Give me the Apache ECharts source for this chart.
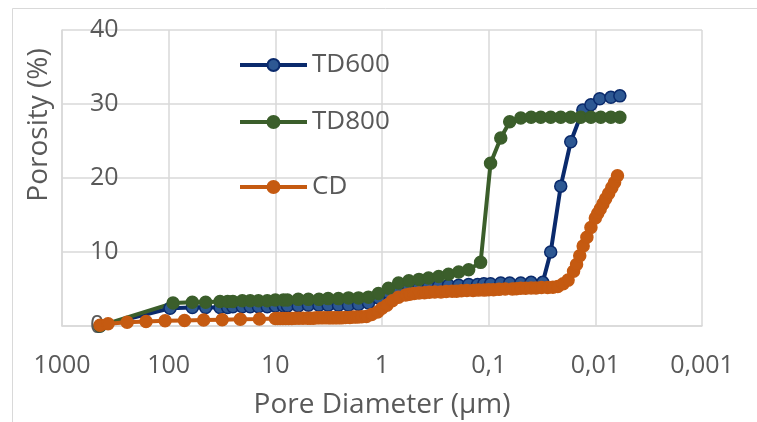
<!DOCTYPE html>
<html>
<head>
<meta charset="utf-8">
<script src="https://cdn.jsdelivr.net/npm/echarts@6/dist/echarts.min.js"></script>
<style>
html,body{margin:0;padding:0;background:#fff;}
#chart{width:757px;height:422px;}
</style>
</head>
<body>
<div id="chart"></div>
<script>
// ---- data ----
const seriesNames = ['TD600', 'TD800', 'CD'];

const td600Diam = [440, 97, 60, 45, 33, 28, 25, 20.4, 17.2, 14.4, 11.9, 10, 8.4, 7.7, 6.1, 4.9, 3.9, 3.2, 2.56, 2.06, 1.66, 1.34, 1.08, 0.87, 0.70, 0.56, 0.45, 0.366, 0.294, 0.238, 0.191, 0.154, 0.127, 0.111, 0.096, 0.077, 0.0635, 0.050, 0.040, 0.0311, 0.0262, 0.0211, 0.0170, 0.0131, 0.0110, 0.0091, 0.00715, 0.00589];
const td600Por = [0, 2.4, 2.5, 2.5, 2.5, 2.5, 2.6, 2.6, 2.6, 2.6, 2.6, 2.7, 2.7, 2.7, 2.7, 2.8, 2.8, 2.8, 2.8, 2.8, 2.9, 3.1, 3.8, 4.5, 4.9, 5.1, 5.2, 5.3, 5.4, 5.5, 5.5, 5.6, 5.6, 5.7, 5.7, 5.8, 5.8, 5.8, 5.9, 5.9, 10.0, 18.9, 24.9, 29.2, 29.9, 30.7, 30.9, 31.1];

const td800Diam = [440, 91, 60, 45, 33, 28, 25, 20.4, 17.2, 14.4, 11.9, 10, 8.4, 7.7, 6.1, 4.9, 3.9, 3.2, 2.56, 2.06, 1.66, 1.34, 1.08, 0.87, 0.70, 0.56, 0.45, 0.366, 0.294, 0.238, 0.191, 0.154, 0.119, 0.096, 0.077, 0.0635, 0.050, 0.040, 0.0325, 0.0262, 0.0211, 0.0170, 0.0137, 0.0110, 0.0089, 0.00715, 0.00589];
const td800Por = [0, 3.1, 3.2, 3.2, 3.3, 3.3, 3.3, 3.4, 3.4, 3.4, 3.4, 3.5, 3.5, 3.5, 3.6, 3.6, 3.6, 3.7, 3.7, 3.8, 3.8, 3.9, 4.4, 5.1, 5.8, 6.1, 6.3, 6.5, 6.7, 7.0, 7.3, 7.6, 8.6, 22.0, 25.4, 27.6, 28.1, 28.2, 28.2, 28.2, 28.2, 28.2, 28.2, 28.2, 28.2, 28.2, 28.2];

const cdDiam = [440, 370, 245, 163, 108, 71, 47, 31.5, 21.3, 14.1,
  10, 9.5, 9, 8.5, 8, 7.5, 7, 6.5, 6, 5.5,
  5, 4.7, 4.4, 4.1, 3.8, 3.5, 3.2, 3.0, 2.8, 2.6,
  2.4, 2.2, 2.0, 1.85, 1.7, 1.55, 1.4, 1.25, 1.1, 1.0,
  0.9, 0.8, 0.7, 0.6, 0.55, 0.5, 0.45, 0.4, 0.36, 0.32,
  0.28, 0.25, 0.22, 0.2, 0.18, 0.16, 0.14, 0.125, 0.11, 0.1,
  0.09, 0.08, 0.07, 0.06, 0.055, 0.05, 0.045, 0.04, 0.036, 0.032,
  0.028, 0.025, 0.0225, 0.02, 0.018, 0.016, 0.015, 0.014, 0.013, 0.012,
  0.011, 0.010, 0.0095, 0.009, 0.0085, 0.008, 0.0075, 0.007, 0.0066, 0.0062];
const cdPor = [0.1, 0.3, 0.5, 0.6, 0.7, 0.75, 0.8, 0.85, 0.9, 0.95,
  1.0, 1.0, 1.0, 1.0, 1.0, 1.0, 1.0, 1.05, 1.05, 1.05,
  1.05, 1.05, 1.05, 1.1, 1.1, 1.1, 1.1, 1.1, 1.1, 1.1,
  1.1, 1.15, 1.15, 1.2, 1.2, 1.25, 1.3, 1.55, 1.9, 2.4,
  2.8, 3.4, 3.9, 4.2, 4.3, 4.4, 4.45, 4.5, 4.55, 4.6,
  4.6, 4.65, 4.7, 4.7, 4.75, 4.8, 4.8, 4.85, 4.85, 4.9,
  4.9, 4.95, 5.0, 5.0, 5.05, 5.1, 5.1, 5.15, 5.15, 5.2,
  5.2, 5.25, 5.35, 5.7, 6.2, 7.4, 8.3, 9.5, 10.8, 12.0,
  13.3, 14.6, 15.2, 15.8, 16.5, 17.2, 17.9, 18.7, 19.4, 20.3];

const xTickExps = [3, 2, 1, 0, -1, -2, -3];
const xTickLabels = ['1000', '100', '10', '1', '0,1', '0,01', '0,001'];
const yTickValues = [0, 10, 20, 30, 40];
const xTitle = 'Pore Diameter (µm)';
const yTitle = 'Porosity (%)';

// ---- chart ----
const FONT = '"Open Sans", "Noto Sans", sans-serif';
const TXT = '#595959';
const GRID = '#d9d9d9';

function zip(a, b) { return a.map((v, i) => [v, b[i]]); }

const chart = echarts.init(document.getElementById('chart'), null, {renderer: 'canvas'});

const styles = {
  TD600: {line: '#0a2a6c', fill: '#2d5893', border: '#0a2a6c'},
  TD800: {line: '#3b5e2b', fill: '#3b5e2b', border: '#3b5e2b'},
  CD: {line: '#c55a11', fill: '#c55a11', border: '#c55a11'}
};
const dataMap = {
  TD600: zip(td600Diam, td600Por),
  TD800: zip(td800Diam, td800Por),
  CD: zip(cdDiam, cdPor)
};

function mkLegend(name, top) {
  return {
    data: [name], left: 238, top: top, orient: 'vertical', padding: 0,
    itemWidth: 67, itemHeight: 15, selectedMode: false,
    lineStyle: {width: 4},
    textStyle: {fontFamily: FONT, fontSize: 26, color: TXT}
  };
}

const option = {
  animation: false,
  backgroundColor: '#fff',
  grid: {left: 62, right: 55, top: 30, bottom: 96, containLabel: false},
  legend: [mkLegend('TD600', 52), mkLegend('TD800', 109), mkLegend('CD', 174)],
  xAxis: {
    type: 'log', logBase: 10, min: 0.001, max: 1000, inverse: true, interval: 1,
    axisLine: {show: true, lineStyle: {color: GRID, width: 1.5}},
    axisTick: {show: false},
    splitLine: {show: true, lineStyle: {color: GRID, width: 1.5}},
    axisLabel: {
      margin: 27, fontFamily: FONT, fontSize: 25, color: TXT,
      formatter: function (v) {
        const e = Math.round(Math.log10(v));
        const i = xTickExps.indexOf(e);
        return i >= 0 ? xTickLabels[i] : '';
      }
    }
  },
  yAxis: {
    type: 'value', min: yTickValues[0], max: yTickValues[yTickValues.length - 1], interval: 10,
    axisLine: {show: true, lineStyle: {color: GRID, width: 1.5}},
    axisTick: {show: false},
    splitLine: {show: true, lineStyle: {color: GRID, width: 1.5}},
    axisLabel: {inside: true, margin: 28, fontFamily: FONT, fontSize: 25, color: TXT}
  },
  graphic: [
    {type: 'rect', silent: true, z: -10, shape: {x: 12.5, y: 8.5, width: 900, height: 600},
     style: {fill: 'none', stroke: GRID, lineWidth: 1}},
    {type: 'text', x: 39, y: 125, rotation: Math.PI / 2,
     style: {text: yTitle, x: 0, y: 0, align: 'center', verticalAlign: 'middle', fontFamily: FONT, fontSize: 28, fill: TXT}},
    {type: 'text', x: 382, y: 405,
     style: {text: xTitle, x: 0, y: 0, align: 'center', verticalAlign: 'middle', fontFamily: FONT, fontSize: 28, fill: TXT}}
  ],
  series: seriesNames.map(n => ({
    name: n, type: 'line', data: dataMap[n],
    symbol: 'circle', symbolSize: 12, showSymbol: true, showAllSymbol: true,
    lineStyle: {color: styles[n].line, width: 4},
    itemStyle: {color: styles[n].fill, borderColor: styles[n].border, borderWidth: 1.5}
  }))
};
chart.setOption(option);
</script>
</body>
</html>
